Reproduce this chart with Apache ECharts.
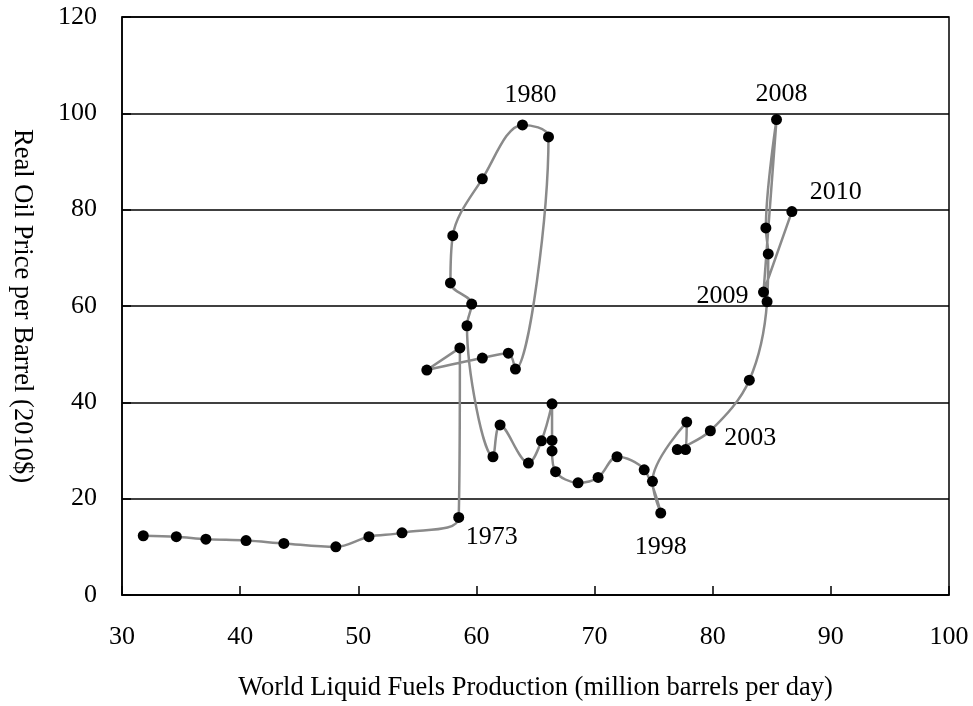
<!DOCTYPE html>
<html>
<head>
<meta charset="utf-8">
<title>World Liquid Fuels Production vs Real Oil Price</title>
<script src="https://cdn.jsdelivr.net/npm/echarts@6/dist/echarts.min.js"></script>
<style>
  html, body { margin: 0; padding: 0; background: #ffffff; }
  #chart { width: 973px; height: 706px; }
</style>
</head>
<body>
<div id="chart"></div>
<script>
// Annual points, 1965–2010
const years = [
  1965, 1966, 1967, 1968, 1969, 1970, 1971, 1972, 1973, 1974,
  1975, 1976, 1977, 1978, 1979, 1980, 1981, 1982, 1983, 1984,
  1985, 1986, 1987, 1988, 1989, 1990, 1991, 1992, 1993, 1994,
  1995, 1996, 1997, 1998, 1999, 2000, 2001, 2002, 2003, 2004,
  2005, 2006, 2007, 2008, 2009, 2010
];

// World liquid fuels production (million barrels per day)
const production = [
  31.8, 34.6, 37.1, 40.5, 43.7, 48.1, 50.9, 53.7, 58.5, 58.6,
  55.8, 60.5, 62.7, 63.3, 66.1, 63.9, 60.5, 58.0, 57.8, 59.6,
  59.2, 61.4, 62.0, 64.4, 65.5, 66.4, 66.4, 66.4, 66.7, 68.6,
  70.3, 71.9, 74.2, 75.6, 74.9, 77.8, 77.7, 77.0, 79.8, 83.1,
  84.6, 84.7, 84.5, 85.4, 84.3, 86.7
];

// Real oil price per barrel (2010 dollars)
const price = [
  12.3, 12.1, 11.6, 11.3, 10.7, 10.0, 12.1, 12.9, 16.1, 51.3,
  46.7, 49.2, 50.2, 46.9, 95.1, 97.6, 86.4, 74.6, 64.8, 60.4,
  55.9, 28.7, 35.3, 27.4, 32.0, 39.7, 32.1, 29.9, 25.6, 23.3,
  24.4, 28.7, 26.0, 17.0, 23.6, 35.9, 30.2, 30.2, 34.1, 44.6,
  60.9, 70.8, 76.2, 98.7, 62.9, 79.6
];

// Years that carry a text label, with the label's offset from the point
const labelledYears = [1973, 1980, 1998, 2003, 2008, 2009, 2010];
const labelOffsets = [[33, 20], [8, -30], [0, 34], [40, 7], [5, -25], [-41, 4], [44, -19]];

const xTicks = [30, 40, 50, 60, 70, 80, 90, 100];
const yTicks = [0, 20, 40, 60, 80, 100, 120];

const serif = '"Liberation Serif", "Times New Roman", "DejaVu Serif", serif';

const points = years.map((yr, i) => {
  const item = { value: [production[i], price[i]] };
  const k = labelledYears.indexOf(yr);
  if (k >= 0) {
    item.label = {
      show: true,
      formatter: String(yr),
      position: 'inside',
      offset: labelOffsets[k],
      color: '#000',
      fontFamily: serif,
      fontSize: 26
    };
  }
  return item;
});

const chart = echarts.init(document.getElementById('chart'), null, { renderer: 'canvas' });

chart.setOption({
  backgroundColor: '#ffffff',
  animation: false,
  grid: {
    left: 122, top: 17, right: 24, bottom: 111,
    containLabel: false,
    outerBoundsMode: 'none',
    show: true,
    borderColor: '#000',
    borderWidth: 1.5,
    backgroundColor: 'transparent'
  },
  xAxis: {
    type: 'value',
    min: xTicks[0],
    max: xTicks[xTicks.length - 1],
    interval: 10,
    name: 'World Liquid Fuels Production (million barrels per day)',
    nameLocation: 'middle',
    nameGap: 80,
    nameTextStyle: { fontFamily: serif, fontSize: 26.5, color: '#000' },
    axisLine: { show: true, onZero: false, lineStyle: { color: '#000', width: 1.5 } },
    axisTick: { show: true, inside: true, length: 9, lineStyle: { color: '#000', width: 1.5 } },
    axisLabel: { margin: 29, fontFamily: serif, fontSize: 26, color: '#000' },
    splitLine: { show: false }
  },
  yAxis: {
    type: 'value',
    min: yTicks[0],
    max: yTicks[yTicks.length - 1],
    interval: 20,
    name: 'Real Oil Price per Barrel (2010$)',
    nameLocation: 'middle',
    nameRotate: -90,
    nameGap: 87,
    nameTextStyle: { fontFamily: serif, fontSize: 26.5, color: '#000' },
    axisLine: { show: true, onZero: false, lineStyle: { color: '#000', width: 1.5 } },
    axisTick: { show: true, inside: true, length: 9, lineStyle: { color: '#000', width: 1.5 } },
    axisLabel: { margin: 25, fontFamily: serif, fontSize: 26, color: '#000' },
    splitLine: { show: true, lineStyle: { color: '#000', width: 1.5 } }
  },
  series: [{
    type: 'line',
    data: points,
    smooth: 0.35,
    symbol: 'circle',
    symbolSize: 11,
    itemStyle: { color: '#000' },
    lineStyle: { color: '#8a8a8a', width: 2.5 },
    z: 3
  }]
});
</script>
</body>
</html>
